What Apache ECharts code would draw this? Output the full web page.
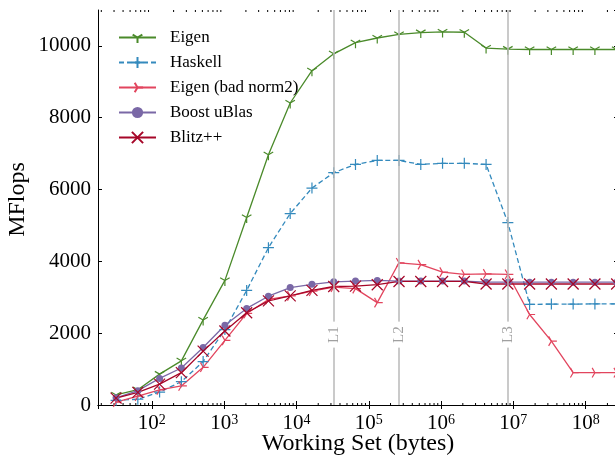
<!DOCTYPE html>
<html>
<head>
<meta charset="utf-8">
<script src="https://cdn.jsdelivr.net/npm/echarts@6/dist/echarts.min.js"></script>
<style>
  html, body { margin: 0; padding: 0; background: #fff; }
  #chart { width: 615px; height: 460px; }
</style>
</head>
<body>
<div id="chart"></div>
<script>
// working set sizes in bytes
const workingSet = [32, 64, 128, 256, 512, 1024, 2048, 4096, 8192, 16384, 32768, 65536,
  131072, 262144, 524288, 1048576, 2097152, 4194304, 8388608, 16777216, 33554432,
  67108864, 134217728, 268435456];

const eigen = [280, 425, 860, 1230, 2370, 3470, 5220, 6970, 8410, 9310, 9780, 10090,
  10220, 10320, 10370, 10390, 10380, 9940, 9910, 9900, 9900, 9900, 9900, 9900];
const haskell = [130, 160, 360, 650, 1210, 2100, 3190, 4380, 5330, 6040, 6470, 6700,
  6810, 6810, 6700, 6730, 6730, 6700, 5080, 2800, 2810, 2810, 2815, 2815];
const eigenBadNorm2 = [80, 245, 420, 530, 1050, 1800, 2550, 2940, 3040, 3170, 3280, 3240,
  2850, 3960, 3910, 3700, 3640, 3650, 3640, 2520, 1780, 900, 900, 900];
const boostUblas = [200, 400, 740, 1030, 1600, 2220, 2690, 3030, 3270, 3360, 3430, 3450,
  3470, 3450, 3450, 3450, 3450, 3420, 3420, 3420, 3420, 3420, 3420, 3420];
const blitz = [190, 350, 580, 900, 1500, 2060, 2570, 2900, 3040, 3190, 3300, 3310,
  3350, 3440, 3440, 3440, 3440, 3370, 3370, 3370, 3370, 3370, 3370, 3370];

const seriesNames = ["Eigen", "Haskell", "Eigen (bad norm2)", "Boost uBlas", "Blitz++"];

// cache sizes (L1 32K, L2 256K, L3 8M)
const cacheNames = ["L1", "L2", "L3"];
const cacheSizes = [32768, 262144, 8388608];

const xMin = 18;
const xMax = 2.8e8;
const yMax = 11000;
const font = "'Liberation Serif', 'DejaVu Serif', serif";

// matplotlib style minor ticks (2..9 x 10^n)
const minorTicks = [];
for (let e = 1; e <= 8; e++) {
  for (let m = 2; m <= 9; m++) {
    const v = m * Math.pow(10, e);
    if (v > xMin && v < xMax) {minorTicks.push([v, 0]);}
  }
}

const SYM = {
  triDown: "path://M10 10L10 20M10 10L1.34 5M10 10L18.66 5M0 0L0 0M20 20L20 20",
  triRight: "path://M10 10L20 10M10 10L5 1.34M10 10L5 18.66M0 0L0 0M20 20L20 20",
  plus: "path://M10 0L10 20M0 10L20 10",
  cross: "path://M0 0L20 20M20 0L0 20",
};

function pairs(ys) {
  return workingSet.map((x, i) => [x, ys[i]]);
}

function lineSeries(name, ys, color, symbol, size, dashed) {
  return {
    name: name,
    type: "line",
    data: pairs(ys),
    symbol: symbol,
    symbolSize: size,
    symbolKeepAspect: true,
    showAllSymbol: true,
    clip: false,
    lineStyle: {color: color, width: 1.3, type: dashed ? [5, 3] : "solid"},
    itemStyle: {color: color, borderColor: color, borderWidth: symbol === "circle" ? 0 : 1.2},
    emphasis: {disabled: true},
    z: 3,
  };
}

function supLabel(value) {
  const e = Math.round(Math.log10(value));
  return "{b|10}{s|" + e + "}";
}

const chart = echarts.init(document.getElementById("chart"), null, {renderer: "canvas"});

const option = {
  animation: false,
  backgroundColor: "#fff",
  grid: {left: 98, right: -3, top: 10, bottom: 55, outerBoundsMode: "none", containLabel: false},
  legend: {
    orient: "vertical",
    left: 113,
    top: 24,
    itemWidth: 37,
    itemHeight: 14,
    itemGap: 8,
    data: seriesNames,
    textStyle: {fontFamily: font, fontSize: 17, color: "#000", padding: [0, 0, 0, 9]},
  },
  xAxis: [
    {
      type: "log",
      logBase: 10,
      min: xMin,
      max: xMax,
      name: "Working Set (bytes)",
      nameLocation: "middle",
      nameGap: 27,
      nameMoveOverlap: false,
      nameTextStyle: {fontFamily: font, fontSize: 24, color: "#000"},
      axisLine: {show: true, lineStyle: {color: "#000", width: 1}},
      axisTick: {show: true, inside: true, length: 4, lineStyle: {color: "#000"}},
      splitLine: {show: false},
      axisLabel: {
        showMinLabel: false,
        showMaxLabel: false,
        margin: 8,
        formatter: supLabel,
        rich: {
          b: {fontFamily: font, fontSize: 21, color: "#000"},
          s: {fontFamily: font, fontSize: 14, color: "#000", verticalAlign: "top", padding: [0, 0, 6, 0]},
        },
      },
    },
    {
      type: "log",
      logBase: 10,
      min: xMin,
      max: xMax,
      position: "top",
      axisLine: {show: true, lineStyle: {color: "#000", width: 1}},
      axisTick: {show: true, inside: true, length: 4, lineStyle: {color: "#000"}},
      axisLabel: {show: false},
      splitLine: {show: false},
    },
  ],
  yAxis: [
    {
      type: "value",
      min: 0,
      max: yMax,
      interval: 2000,
      name: "MFlops",
      nameLocation: "middle",
      nameGap: 68,
      nameMoveOverlap: false,
      nameTextStyle: {fontFamily: font, fontSize: 24, color: "#000", padding: [0, 0, 0, 16]},
      axisLine: {show: true, lineStyle: {color: "#000", width: 1}},
      axisTick: {show: true, inside: true, length: 4, lineStyle: {color: "#000"}},
      splitLine: {show: false},
      axisLabel: {
        showMaxLabel: false,
        margin: 7,
        fontFamily: font,
        fontSize: 21,
        color: "#000",
        formatter: (v) => String(v),
      },
    },
    {
      type: "value",
      min: 0,
      max: yMax,
      interval: 2000,
      position: "right",
      axisLine: {show: true, lineStyle: {color: "#000", width: 1}},
      axisTick: {show: true, inside: true, length: 4, lineStyle: {color: "#000"}},
      axisLabel: {show: false},
      splitLine: {show: false},
    },
  ],
  series: [
    {
      name: "caches",
      type: "line",
      data: [],
      silent: true,
      z: 1,
      markLine: {
        silent: true,
        symbol: "none",
        animation: false,
        lineStyle: {color: "#b8b8b8", width: 1.5, type: "solid"},
        label: {show: false},
        data: cacheSizes.map((v) => ({xAxis: v})),
      },
      markPoint: {
        silent: true,
        animation: false,
        symbol: "rect",
        symbolSize: [6, 26],
        itemStyle: {color: "#fff"},
        label: {
          show: true,
          position: "inside",
          rotate: 90,
          formatter: "{b}",
          fontFamily: font,
          fontSize: 15,
          color: "#a0a0a0",
        },
        data: cacheSizes.map((v, i) => ({name: cacheNames[i], coord: [v, 1960]})),
      },
    },
    {
      name: "minorTicks",
      type: "custom",
      silent: true,
      data: minorTicks,
      encode: {x: 0, y: 1},
      clip: false,
      z: 2,
      renderItem: function(params, api) {
        const b = api.coord([api.value(0), 0]);
        const t = api.coord([api.value(0), yMax]);
        const style = {stroke: "#000", lineWidth: 1};
        return {
          type: "group",
          children: [
            {type: "line", shape: {x1: b[0], y1: b[1], x2: b[0], y2: b[1] - 2}, style: style},
            {type: "line", shape: {x1: t[0], y1: t[1], x2: t[0], y2: t[1] + 2}, style: style},
          ],
        };
      },
    },
    lineSeries("Eigen", eigen, "#4a8a2a", SYM.triDown, 11),
    lineSeries("Haskell", haskell, "#348abd", SYM.plus, 11, true),
    lineSeries("Eigen (bad norm2)", eigenBadNorm2, "#e2455e", SYM.triRight, 11),
    lineSeries("Boost uBlas", boostUblas, "#7a68a6", "circle", 7),
    lineSeries("Blitz++", blitz, "#a60628", SYM.cross, 11),
  ],
};

chart.setOption(option);
</script>
</body>
</html>
